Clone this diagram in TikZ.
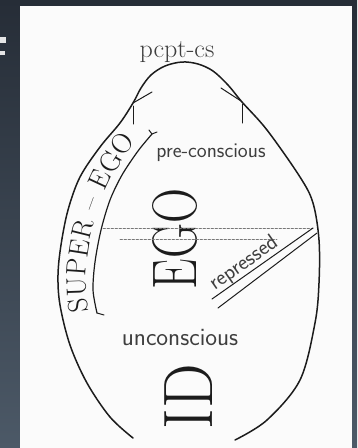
\documentclass[tikz,border=0pt]{standalone}
\usepackage{graphicx}

\definecolor{slatetop}{HTML}{262D37}
\definecolor{slatebot}{HTML}{4C5967}
\definecolor{ink}{HTML}{1C1C1C}
\definecolor{paper}{HTML}{FBFBFB}

\begin{document}
\begin{tikzpicture}[x=1pt, y=-1pt, line cap=round, line join=round,
    outline/.style={draw=ink, line width=1.5pt},
    thinline/.style={draw=ink, line width=1pt},
    dotline/.style={draw=ink!60, line width=0.8pt, dash pattern=on 2.5pt off 1.5pt},
    bigcaps/.style={text=ink, inner sep=0pt, rotate=90},
    supertext/.style={text=ink, inner sep=0pt, font=\rmfamily\fontsize{28}{30}\selectfont},
    smalltext/.style={text=ink!85, inner sep=0pt, anchor=base}]

  % ── background and paper ─────────────────────────────────────────────────

  \shade[top color=slatetop, bottom color=slatebot] (0,0) rectangle (357,448);
  \useasboundingbox (0,0) rectangle (357,448);
  \fill[paper] (20,6) rectangle (352,448);
  \fill[white!90!black] (0,37) rectangle (6,43);
  \fill[white!90!black] (0,51) rectangle (5,55);

  % ── outer egg with the pcpt-cs arch ──────────────────────────────────────

  \draw[outline] plot[smooth, tension=0.55] coordinates {
    (133,438) (110,417) (87,383) (70,345) (60,305) (58,275) (61,245)
    (68,210) (80,177) (100,147) (120,123) (133,103) (141,88) (151,75)
    (165,66) (182,62) (198,64) (213,71) (228,85) (242,102) (267,130)
    (300,177) (313,203) (319,240) (319,283) (315,323) (300,380)
    (267,420) (235,440)};

  % marks on the arch
  \draw[thinline] (133,103) -- (152,92);
  \draw[thinline] (133,106) -- (133,124);
  \draw[thinline] (221,88) -- (241,101);
  \draw[thinline] (242,104) -- (242,123);

  \node[font=\rmfamily\fontsize{26}{27}\selectfont, smalltext] (pcpt) at (177,57) {pcpt-cs};

  % ── super-ego band ───────────────────────────────────────────────────────

  \draw[thinline, line width=1.2pt] plot[smooth] coordinates {
    (152,134) (138,151) (122,175) (110,200) (101,230) (95,262) (93,290) (97,313)};
  \draw[thinline] (152,134) -- (157,132);
  \draw[thinline] (152,134) -- (149,130);
  \draw[thinline] (97,313) -- (104,315);

  % letters set one by one along the band
  \foreach \ch/\px/\py/\ang [count=\i] in {
      S/77.9/305.3/97, U/76.5/287.1/92, P/77.0/267.1/86, E/79.3/248.1/81,
      R/82.4/228.5/76, –/89.8/203.0/70, E/100.0/179.2/65, G/110.1/161.5/59,
      O/122.4/143.3/53}
    \node[supertext, rotate=\ang] (sup\i) at (\px,\py) {\vphantom{S}\ch};

  % ── ego, repressed, id ───────────────────────────────────────────────────

  \node[font=\sffamily\fontsize{21}{22}\selectfont, smalltext] (precs) at (211,157) {pre-conscious};

  \node[font=\rmfamily\fontsize{63}{63}\selectfont, bigcaps] (ego) at (175,239) {\scalebox{0.77}[1]{EGO}};

  \draw[dotline] (103,228) -- (313,228);
  \draw[dotline] (120,239) -- (277,239);

  \draw[thinline] (212,299) -- (313,228);
  \draw[thinline] (218,308) -- (317,233);
  \node[font=\sffamily\fontsize{22}{23}\selectfont, smalltext, rotate=35] (repr) at (247,268) {repressed};

  \node[font=\sffamily\fontsize{25}{26}\selectfont, smalltext] (uncons) at (180,345) {unconscious};

  \node[font=\rmfamily\fontsize{70}{70}\selectfont, bigcaps] (id) at (189,397) {\scalebox{0.9}[1]{ID}};

\end{tikzpicture}
\end{document}
